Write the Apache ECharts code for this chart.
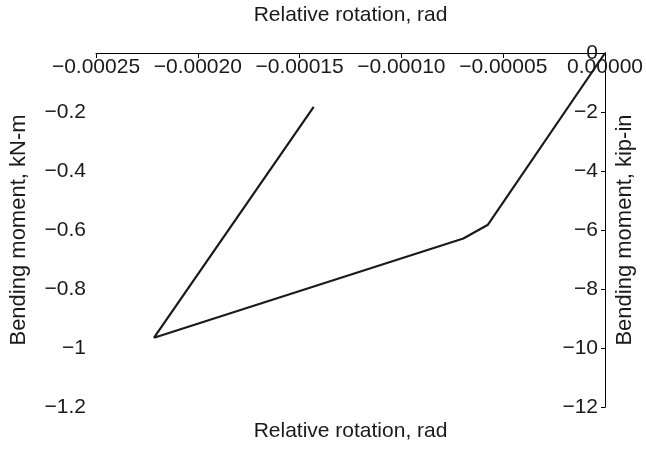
<!DOCTYPE html>
<html>
<head>
<meta charset="utf-8">
<script src="https://cdn.jsdelivr.net/npm/echarts@6/dist/echarts.min.js"></script>
<style>
html,body{margin:0;padding:0;background:#fff;}
#c{width:646px;height:450px;}
</style>
</head>
<body>
<div id="c"></div>
<script>
// Data
const rotation = [0, -0.0000575, -0.0000696, -0.0002215, -0.0001431];
const momentKNm = [0, -0.582, -0.629, -0.965, -0.183];
const xTicks = { min: -0.00025, max: 0, interval: 0.00005 };
const yLeftTicks = { min: -1.2, max: 0, interval: 0.2 };
const yRightTicks = { min: -12, max: 0, interval: 2 };
const xTitle = 'Relative rotation, rad';
const yLeftTitle = 'Bending moment, kN-m';
const yRightTitle = 'Bending moment, kip-in';

const FONT = '"Liberation Sans", Arial, Helvetica, sans-serif';
const FS = 21;
const TXT = '#1a1a1a';
const minus = s => s.replace('-', '\u2212');

const chart = echarts.init(document.getElementById('c'), null, {renderer: 'canvas'});
chart.setOption({
  animation: false,
  backgroundColor: '#fff',
  textStyle: { fontFamily: FONT },
  grid: { left: 91, right: 37, top: 50, bottom: 43, containLabel: false },
  xAxis: [{
    type: 'value', position: 'top',
    min: xTicks.min, max: xTicks.max, interval: xTicks.interval,
    name: xTitle, nameLocation: 'middle', nameGap: 27,
    nameTextStyle: { fontFamily: FONT, fontSize: FS, color: TXT },
    axisLine: { show: true, lineStyle: { color: '#000', width: 1 } },
    axisTick: { show: true, inside: true, length: 5, lineStyle: { color: '#000' } },
    axisLabel: { inside: true, margin: 4, fontFamily: FONT, fontSize: FS, color: TXT,
      showMinLabel: true, showMaxLabel: true,
      formatter: v => minus(v.toFixed(5)) },
    splitLine: { show: false }
  }, {
    type: 'value', position: 'bottom',
    min: xTicks.min, max: xTicks.max, interval: xTicks.interval,
    name: xTitle, nameLocation: 'middle', nameGap: 14,
    nameTextStyle: { fontFamily: FONT, fontSize: FS, color: TXT, verticalAlign: 'top' },
    axisLine: { show: false }, axisTick: { show: false }, axisLabel: { show: false },
    splitLine: { show: false }
  }],
  yAxis: [{
    type: 'value', position: 'left',
    min: yLeftTicks.min, max: yLeftTicks.max, interval: yLeftTicks.interval,
    name: yLeftTitle, nameLocation: 'middle', nameGap: 66, nameRotate: 90,
    nameTextStyle: { fontFamily: FONT, fontSize: 22, color: TXT },
    axisLine: { show: true, lineStyle: { color: '#000', width: 1 } },
    axisTick: { show: true, inside: false, length: 4, lineStyle: { color: '#000' } },
    axisLabel: { margin: 10, fontFamily: FONT, fontSize: FS, color: TXT,
      formatter: v => (Math.abs(v) < 1e-9 ? '' : minus(String(Math.round(v * 10) / 10))) },
    splitLine: { show: false }
  }, {
    type: 'value', position: 'right',
    min: yRightTicks.min, max: yRightTicks.max, interval: yRightTicks.interval,
    name: yRightTitle, nameLocation: 'middle', nameGap: 8, nameRotate: 90,
    nameTextStyle: { fontFamily: FONT, fontSize: 22, color: TXT, verticalAlign: 'top' },
    axisLine: { show: true, lineStyle: { color: '#000', width: 1 } },
    axisTick: { show: true, inside: true, length: 4, lineStyle: { color: '#000' } },
    axisLabel: { inside: true, margin: 7, fontFamily: FONT, fontSize: FS, color: TXT,
      showMinLabel: true, showMaxLabel: true,
      formatter: v => minus(String(Math.round(v))) },
    splitLine: { show: false }
  }],
  series: [{
    type: 'line',
    xAxisIndex: 0, yAxisIndex: 0,
    data: rotation.map((r, i) => [r, momentKNm[i]]),
    showSymbol: false,
    lineStyle: { color: '#1a1a1a', width: 2.2 },
    clip: false
  }]
});
</script>
</body>
</html>
